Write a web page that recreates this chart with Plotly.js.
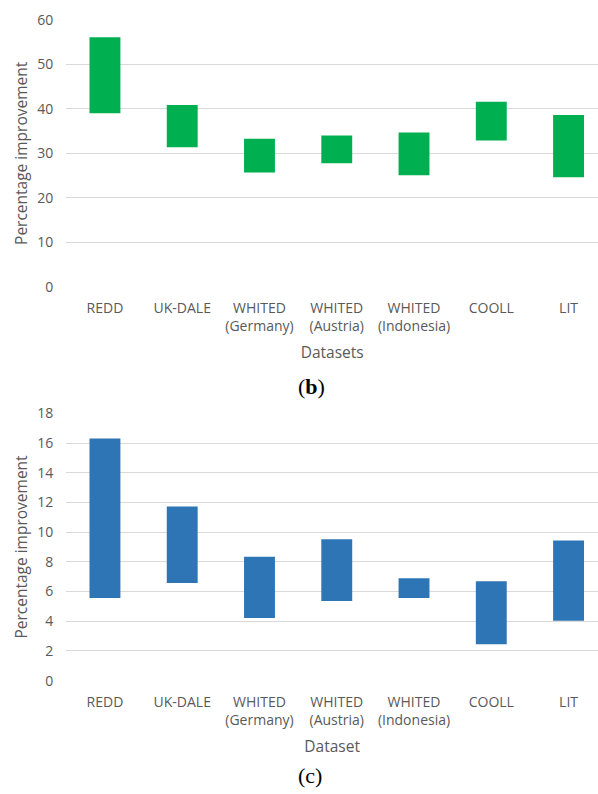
<!DOCTYPE html>
<html>
<head>
<meta charset="utf-8">
<script src="https://cdn.plot.ly/plotly-3.0.1.min.js"></script>
<style>
  html, body { margin: 0; padding: 0; background: #fff; }
  #chart { width: 598px; height: 794px; }
</style>
</head>
<body>
<div id="chart"></div>
<script>
// Categories (tick labels)
const categories = ["REDD", "UK-DALE", "WHITED<br>(Germany)", "WHITED<br>(Austria)", "WHITED<br>(Indonesia)", "COOLL", "LIT"];

// Panel (b): percentage improvement range (low / high)
const lowB  = [39.0, 31.4, 25.7, 27.8, 25.1, 32.9, 24.6];
const highB = [56.1, 40.9, 33.3, 34.0, 34.7, 41.6, 38.6];

// Panel (c): percentage improvement range (low / high)
const lowC  = [5.57, 6.58, 4.22, 5.37, 5.57, 2.45, 4.04];
const highC = [16.3, 11.72, 8.35, 9.52, 6.9, 6.69, 9.43];

const textColor = "#595959";
const gridColor = "#d9d9d9";
const tickFont = {family: "Open Sans", size: 14, color: textColor};
const titleFont = {family: "Open Sans", size: 15.5, color: textColor};

const traceB = {
  type: "bar",
  x: categories,
  y: highB.map((h, i) => h - lowB[i]),
  base: lowB,
  width: 0.4,
  marker: {color: "#00b050", line: {width: 0}},
  xaxis: "x",
  yaxis: "y",
  hoverinfo: "skip"
};

const traceC = {
  type: "bar",
  x: categories,
  y: highC.map((h, i) => h - lowC[i]),
  base: lowC,
  width: 0.4,
  marker: {color: "#2e75b6", line: {width: 0}},
  xaxis: "x2",
  yaxis: "y2",
  hoverinfo: "skip"
};

const xCommon = {
  type: "category",
  range: [-0.5, 6.381],
  domain: [0.1109, 1],
  showgrid: false,
  showline: false,
  ticks: "",
  tickfont: tickFont,
  ticklabelstandoff: 11,
  fixedrange: true
};

const yCommon = {
  showgrid: true,
  gridcolor: gridColor,
  gridwidth: 1,
  zeroline: false,
  showline: false,
  ticks: "",
  tickfont: tickFont,
  ticklabelstandoff: 12,
  fixedrange: true
};

const layout = {
  width: 598,
  height: 794,
  margin: {l: 0, r: 0, t: 0, b: 0},
  paper_bgcolor: "#ffffff",
  plot_bgcolor: "#ffffff",
  showlegend: false,
  bargap: 0.6,
  xaxis: Object.assign({}, xCommon, {
    anchor: "y",
    title: {text: "Datasets", font: titleFont, standoff: 13}
  }),
  yaxis: Object.assign({}, yCommon, {
    anchor: "x",
    domain: [0.63892, 0.97481],
    range: [0, 60],
    dtick: 10,
    title: {text: "Percentage improvement", font: titleFont, standoff: 5}
  }),
  xaxis2: Object.assign({}, xCommon, {
    anchor: "y2",
    title: {text: "Dataset", font: titleFont, standoff: 13}
  }),
  yaxis2: Object.assign({}, yCommon, {
    anchor: "x2",
    domain: [0.14270, 0.47947],
    range: [0, 18],
    dtick: 2,
    title: {text: "Percentage improvement", font: titleFont, standoff: 5}
  }),
  annotations: [
    {text: "(<b>b</b>)", xref: "paper", yref: "paper", x: 311/598, y: 1 - 386/794,
     xanchor: "center", yanchor: "middle", showarrow: false,
     font: {family: "Liberation Serif", size: 22, color: "#000000"}},
    {text: "(c)", xref: "paper", yref: "paper", x: 310/598, y: 1 - 775/794,
     xanchor: "center", yanchor: "middle", showarrow: false,
     font: {family: "Liberation Serif", size: 22, color: "#000000"}}
  ]
};

Plotly.newPlot("chart", [traceB, traceC], layout, {staticPlot: true, displayModeBar: false});
</script>
</body>
</html>
